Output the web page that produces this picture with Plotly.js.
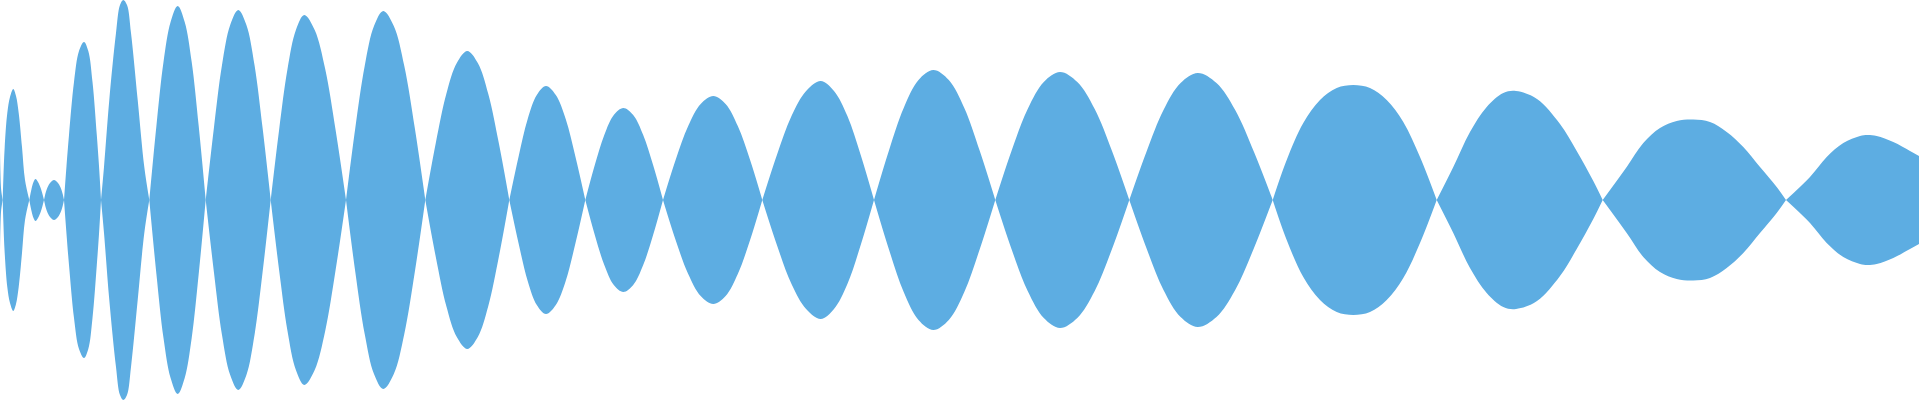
<!DOCTYPE html>
<html>
<head>
<meta charset="utf-8">
<script src="https://cdn.plot.ly/plotly-3.0.1.min.js"></script>
<style>
  html, body { margin: 0; padding: 0; background: #ffffff; }
  #chart { width: 1920px; height: 400px; }
</style>
</head>
<body>
<div id="chart"></div>
<script>
// Sample positions (time axis) and envelope amplitude
const time = [
  0, 1, 2,
  2.7, 3.3, 4.7, 7.3, 10, 13.3, 16, 18.7, 22, 25,
  29.3, 31.5, 33.5, 35.5, 38, 41,
  44, 46.5, 50, 54, 58, 61.5,
  64, 66.5, 69, 74, 79, 84, 88.3, 92.5, 96.8, 99,
  101, 104, 109.3, 116, 120, 123.3, 127, 131, 137.7, 144.3,
  149.3, 156.4, 163.5, 170.6, 177.7, 184.7, 191.7, 198.7,
  205.7, 213.9, 222, 230.2, 238.3, 246.4, 254.5, 262.6,
  270.7, 279.1, 287.5, 295.9, 304.3, 314.7, 325.2, 335.6,
  346, 355.3, 364.7, 374, 383.3, 393.8, 404.3, 414.8,
  425.3, 435.8, 446.3, 456.8, 467.3, 477.8, 488.3, 498.8,
  509.3, 518.5, 527.7, 536.8, 546, 555.8, 565.7, 575.5,
  585.3, 594.8, 604.3, 613.8, 623.3, 633.2, 643.2, 653.1,
  663, 675.6, 688.2, 700.7, 713.3, 725.6, 737.8, 750.1,
  762.3, 776.9, 791.5, 806.1, 820.7, 834, 847.4, 860.7,
  874, 888.8, 903.7, 918.5, 933.3, 948.8, 964.3, 979.8,
  995.3, 1011.5, 1027.7, 1043.8, 1060, 1077.3, 1094.7, 1112,
  1129.3, 1146.4, 1163.5, 1180.6, 1197.7, 1216.5, 1235.2, 1254,
  1272.7, 1286.7, 1303.3, 1320, 1336.7, 1353.3, 1370, 1386.7, 1403.3, 1420,
  1436.7, 1453.3, 1470, 1486.7, 1503.3, 1516, 1537, 1560, 1576.7, 1593.3,
  1602.7, 1626.7, 1643.3, 1660, 1676.7, 1693.3, 1710, 1726.7, 1743.3, 1760, 1776.7,
  1786, 1810, 1826.7, 1843.3, 1860, 1867.3, 1876.7, 1893.3, 1910, 1919
];
const amplitude = [
  50, 12, 4,
  0, 20, 53, 87, 103, 111, 104, 87, 53, 20,
  0, 11, 18, 21, 18, 11,
  0, 10, 17, 20, 17, 10,
  0, 34, 65, 118, 149, 158, 149, 118, 65, 34,
  0, 33, 100, 167, 195, 200, 195, 167, 100, 33,
  0, 74, 138, 178, 194, 178, 138, 74,
  0, 72, 135, 175, 190, 175, 135, 72,
  0, 70, 131, 170, 185, 170, 131, 70,
  0, 72, 134, 174, 189, 174, 134, 72,
  0, 57, 106, 137, 149, 137, 106, 57,
  0, 43, 81, 105, 114, 105, 81, 43,
  0, 35, 65, 85, 92, 85, 65, 35,
  0, 40, 74, 96, 104, 96, 74, 40,
  0, 45, 84, 109, 119, 109, 84, 45,
  0, 49, 92, 120, 130, 120, 92, 49,
  0, 49, 91, 118, 128, 118, 91, 49,
  0, 48, 90, 117, 127, 117, 90, 48,
  0, 40, 77, 100, 112, 115, 112, 100, 78, 43,
  0, 33, 68, 93, 107, 109, 101, 76, 49, 19,
  0, 33, 57, 72, 79, 80.5, 78, 68, 53, 33, 13,
  0, 23, 43, 57, 64, 65, 64, 58, 49, 44
];

const fillColor = '#5DADE2';

// split the envelope into lobes at its zero crossings so each lobe keeps a sharp pinch
const segments = [];
let cur = { x: [], y: [] };
for (let i = 0; i < time.length; i++) {
  cur.x.push(time[i]);
  cur.y.push(amplitude[i]);
  if (amplitude[i] === 0 && cur.x.length > 1) {
    segments.push(cur);
    cur = { x: [time[i]], y: [amplitude[i]] };
  }
}
if (cur.x.length > 1) segments.push(cur);

const traces = [];
segments.forEach(seg => {
  traces.push({ x: seg.x, y: seg.y.map(v => -v), type: 'scatter', mode: 'lines',
    line: { width: 0, color: fillColor, shape: 'spline', smoothing: 1 },
    hoverinfo: 'skip', showlegend: false });
  traces.push({ x: seg.x, y: seg.y, type: 'scatter', mode: 'lines', fill: 'tonexty',
    fillcolor: fillColor, line: { width: 0, color: fillColor, shape: 'spline', smoothing: 1 },
    hoverinfo: 'skip', showlegend: false });
});

const layout = {
  width: 1920, height: 400,
  margin: { l: 0, r: 0, t: 0, b: 0, pad: 0 },
  paper_bgcolor: '#ffffff', plot_bgcolor: '#ffffff',
  showlegend: false,
  xaxis: { range: [0, 1920], visible: false, showgrid: false, zeroline: false, fixedrange: true },
  yaxis: { range: [-200, 200], visible: false, showgrid: false, zeroline: false, fixedrange: true }
};

Plotly.newPlot('chart', traces, layout, { staticPlot: true, displayModeBar: false });
</script>
</body>
</html>
